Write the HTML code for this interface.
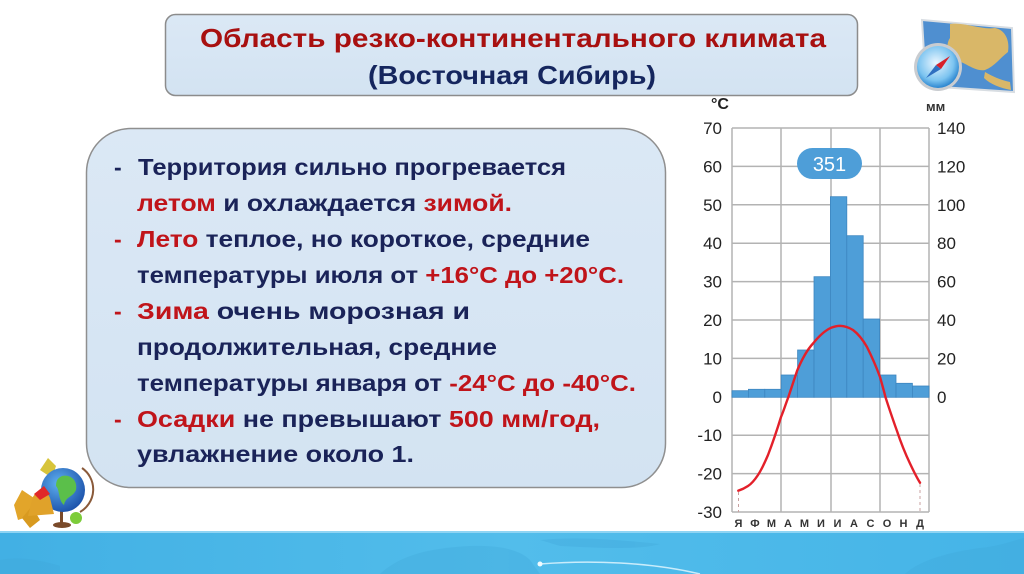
<!DOCTYPE html>
<html><head><meta charset="utf-8"><style>
html,body{margin:0;padding:0;background:#fff;}
svg{display:block;}
text{font-family:"Liberation Sans","DejaVu Sans",sans-serif;}
</style></head><body>
<svg width="1024" height="574" viewBox="0 0 1024 574" xmlns="http://www.w3.org/2000/svg">
<defs>
<linearGradient id="band" x1="0" y1="0" x2="1" y2="0">
<stop offset="0" stop-color="#42b0e4"/><stop offset="0.5" stop-color="#52bdeb"/><stop offset="1" stop-color="#45b4e7"/>
</linearGradient>
<linearGradient id="boxg" x1="0" y1="0" x2="0" y2="1">
<stop offset="0" stop-color="#dbe8f5"/><stop offset="1" stop-color="#d3e3f2"/>
</linearGradient>
<radialGradient id="globe" cx="0.4" cy="0.35" r="0.7">
<stop offset="0" stop-color="#5fb0f0"/><stop offset="1" stop-color="#1a4fa8"/>
</radialGradient>
<radialGradient id="comp" cx="0.45" cy="0.4" r="0.6">
<stop offset="0" stop-color="#eaf6ff"/><stop offset="0.7" stop-color="#7cc4f0"/><stop offset="1" stop-color="#2c86d0"/>
</radialGradient>
</defs>

<!-- title box -->
<rect x="165.5" y="14.5" width="692" height="81" rx="10" fill="url(#boxg)" stroke="#8c8c8c" stroke-width="1.5"/>
<text x="513" y="47" text-anchor="middle" font-size="26" font-weight="bold" fill="#a81010" textLength="626" lengthAdjust="spacingAndGlyphs">Область резко-континентального климата</text>
<text x="512" y="84" text-anchor="middle" font-size="26" font-weight="bold" fill="#15265e" textLength="288" lengthAdjust="spacingAndGlyphs">(Восточная Сибирь)</text>

<!-- text box -->
<rect x="86.5" y="128.5" width="579" height="359" rx="44" fill="url(#boxg)" stroke="#8f8f8f" stroke-width="1.5"/>
<g font-size="23" font-weight="bold" fill="#1a2358">
<text x="114" y="175">-</text>
<text x="138" y="175" textLength="428" lengthAdjust="spacingAndGlyphs">Территория сильно прогревается</text>
<text x="137" y="211" textLength="375" lengthAdjust="spacingAndGlyphs"><tspan fill="#c0141a">летом</tspan> и охлаждается <tspan fill="#c0141a">зимой.</tspan></text>
<text x="114" y="247" fill="#c0141a">-</text>
<text x="137" y="247" textLength="453" lengthAdjust="spacingAndGlyphs"><tspan fill="#c0141a">Лето</tspan> теплое, но короткое, средние</text>
<text x="137" y="283" textLength="487" lengthAdjust="spacingAndGlyphs">температуры июля от <tspan fill="#c0141a">+16°С до +20°С.</tspan></text>
<text x="114" y="319" fill="#c0141a">-</text>
<text x="137" y="319" textLength="333" lengthAdjust="spacingAndGlyphs"><tspan fill="#c0141a">Зима</tspan> очень морозная и</text>
<text x="137" y="355" textLength="360" lengthAdjust="spacingAndGlyphs">продолжительная, средние</text>
<text x="137" y="391" textLength="499" lengthAdjust="spacingAndGlyphs">температуры января от <tspan fill="#c0141a">-24°С до -40°С.</tspan></text>
<text x="114" y="427" fill="#c0141a">-</text>
<text x="137" y="427" textLength="463" lengthAdjust="spacingAndGlyphs"><tspan fill="#c0141a">Осадки</tspan> не превышают <tspan fill="#c0141a">500 мм/год,</tspan></text>
<text x="137" y="462" textLength="277" lengthAdjust="spacingAndGlyphs">увлажнение около 1.</text>
</g>

<!-- chart grid -->
<g stroke="#b3b3b3" stroke-width="1.5" fill="none">
<line x1="732" y1="128" x2="929" y2="128"/>
<line x1="732" y1="166.4" x2="929" y2="166.4"/>
<line x1="732" y1="204.8" x2="929" y2="204.8"/>
<line x1="732" y1="243.2" x2="929" y2="243.2"/>
<line x1="732" y1="281.6" x2="929" y2="281.6"/>
<line x1="732" y1="320" x2="929" y2="320"/>
<line x1="732" y1="358.4" x2="929" y2="358.4"/>
<line x1="732" y1="396.8" x2="929" y2="396.8"/>
<line x1="732" y1="435.2" x2="929" y2="435.2"/>
<line x1="732" y1="473.6" x2="929" y2="473.6"/>
<line x1="732" y1="512" x2="929" y2="512"/>
<line x1="732" y1="128" x2="732" y2="512"/>
<line x1="781" y1="128" x2="781" y2="512"/>
<line x1="831" y1="128" x2="831" y2="512"/>
<line x1="880" y1="128" x2="880" y2="512"/>
<line x1="929" y1="128" x2="929" y2="512"/>
</g>

<!-- bars -->
<g fill="#4e9ed8" stroke="#3d86c0" stroke-width="0.8">
<rect x="732" y="390.7" width="16.4" height="6.6"/>
<rect x="748.4" y="389.3" width="16.4" height="8"/>
<rect x="764.8" y="389.3" width="16.4" height="8"/>
<rect x="781.2" y="375" width="16.4" height="22.3"/>
<rect x="797.6" y="350" width="16.4" height="47.3"/>
<rect x="814" y="276.7" width="16.4" height="120.6"/>
<rect x="830.4" y="196.7" width="16.4" height="200.6"/>
<rect x="846.8" y="235.7" width="16.4" height="161.6"/>
<rect x="863.2" y="319" width="16.4" height="78.3"/>
<rect x="879.6" y="375" width="16.4" height="22.3"/>
<rect x="896" y="383.3" width="16.4" height="14"/>
<rect x="912.4" y="386" width="16.6" height="11.3"/>
</g>

<!-- badge -->
<rect x="797" y="148" width="65" height="31" rx="15.5" fill="#4e9ed8"/>
<text x="829.5" y="171" text-anchor="middle" font-size="20" fill="#fff">351</text>

<!-- dashed drops -->
<g stroke="#c8a0a0" stroke-width="1" stroke-dasharray="3,3">
<line x1="738.5" y1="492" x2="738.5" y2="512"/>
<line x1="920" y1="484" x2="920" y2="512"/>
</g>

<!-- temperature curve -->
<path d="M738.3,490.7 C742,489.5 745,488 748,486 C752,483.5 755,479.5 758,475 C762,469 765,462 768,455 C773,442 777,430 781,417 C784,410 786,403 788.3,397.3 C791,389 794,380 797,371 C802,359 807,350 813,343.5 C819,336 825,330.5 831,327.8 C835,326.3 838,325.8 840,325.8 C845,326 849,327.5 853,330 C859,334.5 863,340 867,347 C872,357 876,366 880,377 C882,384 884,391 885.5,397.3 C889,408 893,420 897,431 C901,443 905,453 910,463.5 C914,472 917,478 920,482.7" fill="none" stroke="#e3202a" stroke-width="2.4" stroke-linecap="round"/>

<!-- axis labels -->
<g font-size="17" fill="#222" text-anchor="end">
<text x="722" y="134">70</text>
<text x="722" y="172.4">60</text>
<text x="722" y="210.8">50</text>
<text x="722" y="249.2">40</text>
<text x="722" y="287.6">30</text>
<text x="722" y="326">20</text>
<text x="722" y="364.4">10</text>
<text x="722" y="402.8">0</text>
<text x="722" y="441.2">-10</text>
<text x="722" y="479.6">-20</text>
<text x="722" y="518">-30</text>
</g>
<g font-size="17" fill="#222" text-anchor="start">
<text x="937" y="134">140</text>
<text x="937" y="172.4">120</text>
<text x="937" y="210.8">100</text>
<text x="937" y="249.2">80</text>
<text x="937" y="287.6">60</text>
<text x="937" y="326">40</text>
<text x="937" y="364.4">20</text>
<text x="937" y="402.8">0</text>
</g>
<text x="711" y="109" font-size="16" font-weight="bold" fill="#222">°C</text>
<text x="926" y="111" font-size="13" font-weight="bold" fill="#333">мм</text>
<g font-size="11" font-weight="bold" fill="#333" text-anchor="middle">
<text x="738.5" y="527">Я</text>
<text x="755" y="527">Ф</text>
<text x="771.5" y="527">М</text>
<text x="788" y="527">А</text>
<text x="804.5" y="527">М</text>
<text x="821" y="527">И</text>
<text x="837.5" y="527">И</text>
<text x="854" y="527">А</text>
<text x="870.5" y="527">С</text>
<text x="887" y="527">О</text>
<text x="903.5" y="527">Н</text>
<text x="920" y="527">Д</text>
</g>

<!-- bottom band -->
<rect x="0" y="531" width="1024" height="43" fill="url(#band)"/>
<rect x="0" y="531" width="1024" height="2" fill="#8fd4f3"/>
<g fill="#3ea4d8" opacity="0.3">
<path d="M380,574 C400,555 430,548 470,546 C500,545 520,550 530,560 L540,574 Z"/>
<path d="M540,540 C580,536 620,540 660,544 C640,550 600,548 560,546 Z"/>
<path d="M905,574 C920,560 950,552 980,548 C1000,546 1015,540 1024,538 L1024,574 Z"/>
<path d="M0,560 C20,556 40,560 60,566 L60,574 L0,574 Z"/>
</g>
<path d="M540,564 C590,560 650,562 700,574" fill="none" stroke="#c9ecfb" stroke-width="1.5"/>
<circle cx="540" cy="564" r="2.5" fill="#f0fbff"/>

<!-- top-right icon: map + compass -->
<g>
<path d="M922,20 L1012,28 L1014,92 L926,86 Z" fill="#4f8fd0" stroke="#d8dde2" stroke-width="2"/>
<path d="M950,24 C965,22 980,30 995,28 C1005,30 1010,40 1008,52 C1000,58 995,66 985,70 C975,72 965,62 955,60 C948,56 945,45 950,38 Z" fill="#d9b768"/>
<path d="M985,72 C992,76 1000,80 1010,82 L1011,90 C1000,88 990,84 984,78 Z" fill="#d9b768"/>
<circle cx="938" cy="67" r="24" fill="#c9ccd0"/>
<circle cx="938" cy="67" r="21" fill="url(#comp)"/>
<path d="M926,78 L936,65 L941,69 Z" fill="#2f6fc0"/>
<path d="M950,56 L936,65 L941,69 Z" fill="#d8202a"/>
</g>

<!-- bottom-left icon: globe, bell, leaves, apple -->
<g>
<path d="M40,470 L48,458 L56,466 L52,478 Z" fill="#d7c43a"/>
<path d="M14,505 L22,490 L34,498 L30,516 L18,520 Z" fill="#e2a52a"/>
<path d="M22,518 L32,506 L40,520 L30,528 Z" fill="#d89a20"/>
<rect x="60" y="510" width="3" height="14" fill="#7a4a2a"/>
<ellipse cx="62" cy="525" rx="9" ry="3" fill="#7a4a2a"/>
<circle cx="63" cy="490" r="22" fill="url(#globe)"/>
<path d="M62,476 C70,474 78,480 76,490 C72,498 66,496 64,505 C58,500 60,490 56,486 C56,480 58,478 62,476 Z" fill="#5bbf4a"/>
<path d="M82,468 A26,26 0 0 1 80,512" fill="none" stroke="#8a5a3a" stroke-width="2"/>
<path d="M32,500 C34,490 46,488 50,498 L54,514 L28,516 Z" fill="#e0a22a"/>
<path d="M34,494 L44,486 L50,494 L40,500 Z" fill="#e02828"/>
<circle cx="76" cy="518" r="6" fill="#7ccc3a"/>
</g>
</svg>
</body></html>
